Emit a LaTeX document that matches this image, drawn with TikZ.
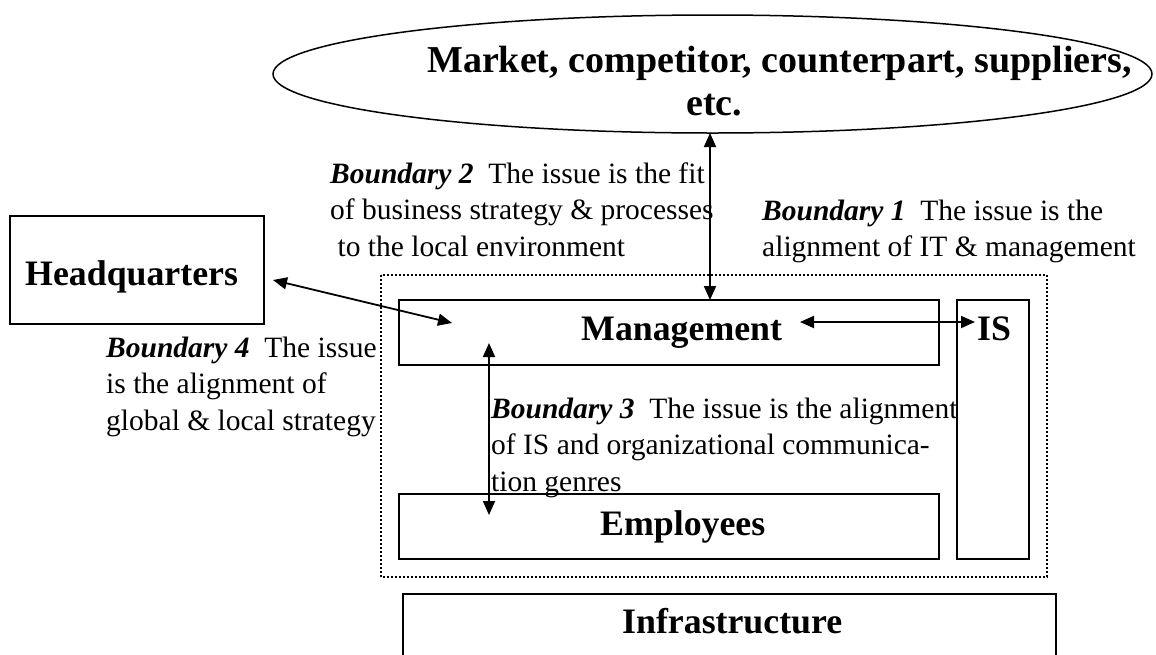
\documentclass[tikz,border=0pt]{standalone}
\usepackage{fontspec}
\setmainfont{Liberation Serif}
\usetikzlibrary{arrows.meta,shapes.geometric}
\begin{document}
\begin{tikzpicture}[x=1pt,y=-1pt,
  frame/.style={draw, line width=1.8pt, inner sep=0pt},
  boundary/.style={draw, line width=1.8pt, dash pattern=on 2pt off 2pt},
  lbl/.style={inner sep=0pt, anchor=base west, font=\fontsize{35.8}{43}\selectfont\bfseries},
  note/.style={inner sep=0pt, anchor=north west, align=left, font=\fontsize{29.5}{36.6}\selectfont},
  link/.style={line width=1.8pt, {Triangle[length=14pt,width=12pt]}-{Triangle[length=14pt,width=12pt]}},
]
\useasboundingbox (0,0) rectangle (1156,654);
\clip (0,0) rectangle (1156,654);

% environment ellipse
\node[draw, ellipse, line width=1.5pt, inner sep=0pt, minimum width=879pt, minimum height=118pt] (mkt) at (712.5,74) {};
\node[inner sep=0pt, anchor=north west, align=left, font=\fontsize{38}{43}\selectfont\bfseries] (mktT) at (427,41.9)
  {\strut Market, competitor, counterpart, suppliers,\\\hspace*{259pt}etc.};

% headquarters
\node[frame, minimum width=254pt, minimum height=108pt] (hq) at (137,270) {};
\node[lbl] (hqT) at (25,285) {Headquarters};

% subsidiary boundary (dotted)
\draw[boundary] (381,275) rectangle (1047,577);

% inner boxes
\node[frame, minimum width=540pt, minimum height=65pt] (mgmt) at (669,332.5) {};
\node[lbl] (mgmtT) at (581,340) {Management};
\node[frame, minimum width=72pt, minimum height=259pt] (is) at (993,429.5) {};
\node[lbl] (isT) at (977,340) {IS};
\node[frame, minimum width=540pt, minimum height=65pt] (emp) at (669,526.5) {};
\node[lbl] (empT) at (600,535) {Employees};

% infrastructure (runs past the bottom edge)
\draw[line width=1.8pt] (403,680) -- (403,594) -- (1056,594) -- (1056,680);
\node[lbl] (infT) at (622,633) {Infrastructure};

% boundary notes
\node[note] (b1) at (762,194.4)
  {\strut\textbf{\textit{Boundary 1}}\ \ The issue is the\\alignment of IT \& management};
\node[note] (b2) at (330,157.4)
  {\strut\textbf{\textit{Boundary 2}}\ \ The issue is the fit\\of business strategy \& processes\\\hspace*{0.25em}to the local environment};
\node[note] (b3) at (491,392.4)
  {\strut\textbf{\textit{Boundary 3}}\ \ The issue is the alignment\\of IS and organizational communica-\\tion genres};
\node[note] (b4) at (106,331.4)
  {\strut\textbf{\textit{Boundary 4}}\ \ The issue\\is the alignment of\\global \& local strategy};

% arrow end points
\coordinate (mktBot) at (710,133);
\coordinate (mgmtTop) at (710,300);
\coordinate (hqTip) at (273,280);
\coordinate (mgmtHQ) at (452,323);
\coordinate (mgmtR) at (800,322);
\coordinate (isTip) at (975,322);
\coordinate (mgmtLow) at (489,343);
\coordinate (empTip) at (489,515);

\draw[link] (mktBot) -- (mgmtTop);
\draw[link] (hqTip) -- (mgmtHQ);
\draw[link] (mgmtR) -- (isTip);
\draw[link] (mgmtLow) -- (empTip);
\end{tikzpicture}
\end{document}
